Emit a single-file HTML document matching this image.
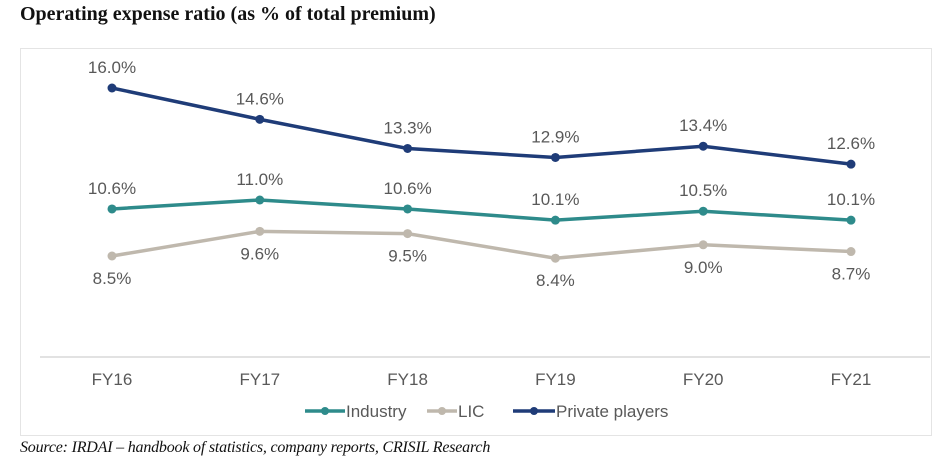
<!DOCTYPE html>
<html><head><meta charset="utf-8"><style>
body{margin:0;background:#fff;width:940px;height:469px;overflow:hidden;position:relative}
.title{position:absolute;left:20px;top:3px;font:bold 20px "Liberation Serif",serif;color:#111}
.src{position:absolute;left:20px;top:439px;font:italic 16px "Liberation Serif",serif;color:#111;letter-spacing:-0.2px}
.box{position:absolute;left:20px;top:48px;width:912px;height:388px;border:1px solid #e4e4e4;box-sizing:border-box}
svg{position:absolute;left:0;top:0}
</style></head><body>
<div class="title">Operating expense ratio (as % of total premium)</div>
<div class="box"></div>
<svg id="c" width="940" height="469"></svg>
<div class="src">Source: IRDAI – handbook of statistics, company reports, CRISIL Research</div>
<script>
const categories=["FY16","FY17","FY18","FY19","FY20","FY21"];
const industry=[10.6,11.0,10.6,10.1,10.5,10.1];
const lic=[8.5,9.6,9.5,8.4,9.0,8.7];
const privatePlayers=[16.0,14.6,13.3,12.9,13.4,12.6];
const seriesNames=["Industry","LIC","Private players"];
const NS="http://www.w3.org/2000/svg";
const svg=document.getElementById('c');
function x(i){return 112+i*147.8;}
function y(v){return 88+(16-v)*22.4;}
function mk(t,a,p){const e=document.createElementNS(NS,t);for(const k in a)e.setAttribute(k,a[k]);(p||svg).appendChild(e);return e;}
const ax=mk('line',{x1:40,x2:930,y1:357,y2:357,stroke:'#d9d9d9','stroke-width':1.5});


categories.forEach((c,i)=>{const t=mk('text',{x:x(i),y:385,'text-anchor':'middle','font-family':'Liberation Sans, sans-serif','font-size':17,fill:'#595959'});t.textContent=c;

});
const series=[[lic,'#bfb8ad',22],[industry,'#2e8b8b',-15],[privatePlayers,'#1f3c78',-15]];
series.forEach(([d,col,off],si)=>{
 const g=mk('g',{});
 
 
 mk('polyline',{points:d.map((v,i)=>x(i)+','+y(v)).join(' '),fill:'none',stroke:col,'stroke-width':3.5},g);
 d.forEach((v,i)=>{const p=mk('circle',{cx:x(i),cy:y(v),r:4.5,fill:col},g);
 
 
 const t=mk('text',{x:x(i),y:y(v)+off+(off>0?6:0),'text-anchor':'middle','font-family':'Liberation Sans, sans-serif','font-size':17,fill:'#595959'},g);t.textContent=v.toFixed(1)+'%';
 
 });
});
const leg=[[seriesNames[0],'#2e8b8b',305,40],[seriesNames[1],'#bfb8ad',427,30],[seriesNames[2],'#1f3c78',513,42]];
leg.forEach(([n,col,lx,w])=>{const g=mk('g',{});
 
 
 mk('line',{x1:lx,x2:lx+w,y1:411,y2:411,stroke:col,'stroke-width':3.5},g);
 mk('circle',{cx:lx+w/2,cy:411,r:4,fill:col},g);
 const t=mk('text',{x:lx+w+1,y:417,'font-family':'Liberation Sans, sans-serif','font-size':17,fill:'#595959'},g);t.textContent=n;});
</script>
</body></html>
